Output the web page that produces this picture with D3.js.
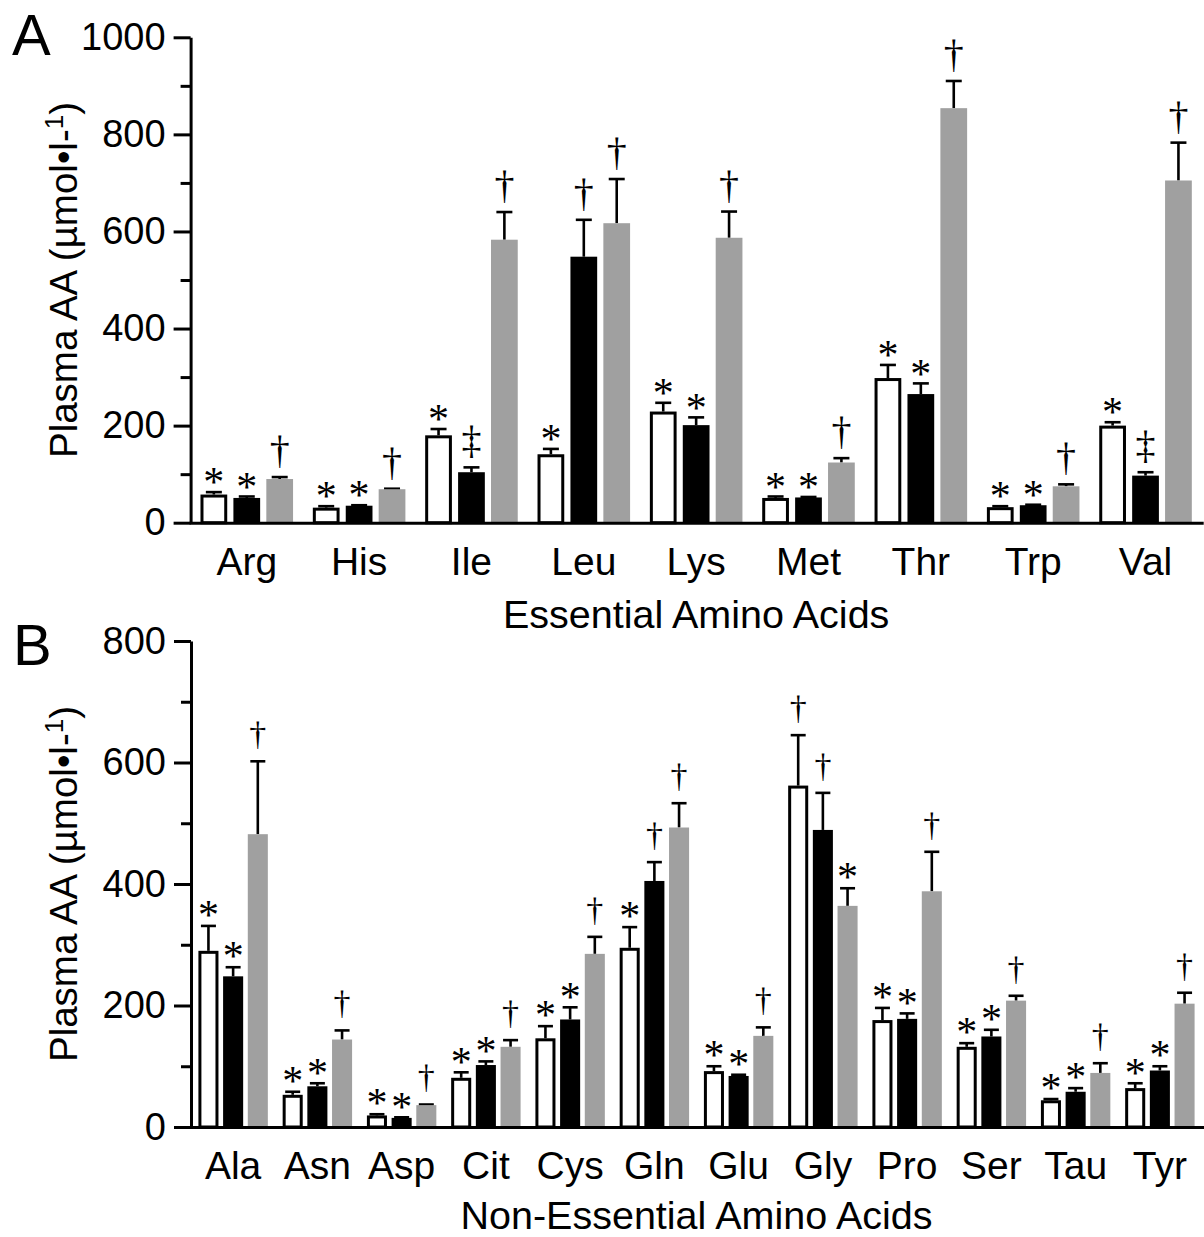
<!DOCTYPE html>
<html><head><meta charset="utf-8">
<script src="https://cdn.jsdelivr.net/npm/d3@7"></script>
<style>body{margin:0;background:#fff}svg{display:block}</style>
</head><body>
<svg id="chart" width="1204" height="1237"></svg>
<script>
// ---------- Panel A: Essential amino acids ----------
const catsA = ["Arg","His","Ile","Leu","Lys","Met","Thr","Trp","Val"];
const whiteA = [58,31,180,141,229,51,298,32,200];
const whiteErrA = [5,3,13,11,18,3,27,2,7];
const blackA = [51,35,104,548,201,52,265,36,97];
const blackErrA = [3,1,10,76,16,1,22,1,7];
const grayA = [90,69,583,617,587,124,854,75,705];
const grayErrA = [4,1,57,91,54,9,56,4,78];
const whiteSigA = ["*","*","*","*","*","*","*","*","*"];
const blackSigA = ["*","*","‡","†","*","*","*","*","‡"];
const graySigA = ["†","†","†","†","†","†","†","†","†"];
const ticksA = [0,200,400,600,800,1000];
const minorA = [100,300,500,700,900];

// ---------- Panel B: Non-essential amino acids ----------
const catsB = ["Ala","Asn","Asp","Cit","Cys","Gln","Glu","Gly","Pro","Ser","Tau","Tyr"];
const whiteB = [290,53,19,81,146,295,92,562,176,132,44,64];
const whiteErrB = [41,5,2,9,20,34,8,83,20,6,2,8];
const blackB = [248,67,15,102,177,405,84,489,178,149,58,93];
const blackErrB = [15,5,1,6,20,31,2,61,9,11,6,7];
const grayB = [482,144,36,132,285,493,150,364,388,208,89,203];
const grayErrB = [120,15,1,11,28,40,14,29,65,8,16,18];
const whiteSigB = ["*","*","*","*","*","*","*","†","*","*","*","*"];
const blackSigB = ["*","*","*","*","*","†","*","†","*","*","*","*"];
const graySigB = ["†","†","†","†","†","†","†","*","†","†","†","†"];
const ticksB = [0,200,400,600,800];
const minorB = [100,300,500,700];

const GRAY = "#a0a0a0";
const FONT = "Liberation Sans, Arial, Helvetica, sans-serif";
const SYMFONT = "Liberation Serif, Times New Roman, serif";

const svg = d3.select("#chart");

function panel(opt){
  const g = svg.append("g");
  const x = d3.scaleBand().domain(opt.cats).range(opt.xRange).padding(0);
  const y = d3.scaleLinear().domain([0, opt.yMax]).range(opt.yRange);
  const bw = x.bandwidth();
  const barW = bw * 0.238, step = bw * 0.293;
  const series = [
    {vals: opt.white, errs: opt.whiteErr, sig: opt.whiteSig, off: -1, kind: "white"},
    {vals: opt.black, errs: opt.blackErr, sig: opt.blackSig, off: 0, kind: "black"},
    {vals: opt.gray, errs: opt.grayErr, sig: opt.graySig, off: 1, kind: "gray"}
  ];
  const cx = (c, off) => x(c) + bw/2 + off*step;

  series.forEach(s => {
    const data = opt.cats.map((c,i) => ({c, v: s.vals[i], e: s.errs[i], sig: s.sig[i]}));
    const eg = g.append("g");
    eg.selectAll("line.v").data(data).join("line")
      .attr("x1", d => cx(d.c, s.off)).attr("x2", d => cx(d.c, s.off))
      .attr("y1", d => y(d.v)).attr("y2", d => y(d.v + d.e))
      .attr("stroke", "#000").attr("stroke-width", 2.6);
    eg.selectAll("line.cap").data(data).join("line")
      .attr("x1", d => cx(d.c, s.off) - opt.cap/2).attr("x2", d => cx(d.c, s.off) + opt.cap/2)
      .attr("y1", d => y(d.v + d.e)).attr("y2", d => y(d.v + d.e))
      .attr("stroke", "#000").attr("stroke-width", 2.6);
    const bg = g.append("g");
    if (s.kind === "white") {
      bg.selectAll("rect").data(data).join("rect")
        .attr("x", d => cx(d.c, s.off) - barW/2 + 1.5)
        .attr("width", barW - 3)
        .attr("y", d => y(d.v) + 1.5)
        .attr("height", d => y(0) - y(d.v) - 1.5)
        .attr("fill", "#fff").attr("stroke", "#000").attr("stroke-width", 3);
    } else {
      bg.selectAll("rect").data(data).join("rect")
        .attr("x", d => cx(d.c, s.off) - barW/2)
        .attr("width", barW)
        .attr("y", d => y(d.v))
        .attr("height", d => y(0) - y(d.v))
        .attr("fill", s.kind === "black" ? "#000" : GRAY);
    }
    const sg = g.append("g");
    sg.selectAll("text").data(data).join("text")
      .attr("x", d => cx(d.c, s.off))
      .attr("text-anchor", "middle")
      .attr("font-family", SYMFONT)
      .attr("font-size", d => d.sig === "*" ? opt.astSize : opt.dagSize)
      .attr("y", d => {
        const gap = d.sig === "*" ? opt.astGap : opt.dagGap;
        const target = y(d.v + d.e) - gap;
        const inkBottom = d.sig === "*" ? -0.22 * opt.astSize : 0.15 * opt.dagSize;
        return target - inkBottom;
      })
      .text(d => d.sig);
  });

  g.append("g").attr("transform", `translate(${opt.xRange[0]},0)`)
    .call(d3.axisLeft(y).tickValues(opt.minor).tickSize(10).tickSizeOuter(0).tickFormat(""))
    .call(a => a.select(".domain").remove())
    .selectAll("line").attr("stroke-width", 3);
  const ya = g.append("g").attr("transform", `translate(${opt.xRange[0]},0)`)
    .call(d3.axisLeft(y).tickValues(opt.ticks).tickSize(17).tickSizeOuter(0).tickPadding(8).tickFormat(d3.format("d")));
  ya.selectAll("line").attr("stroke-width", 3);
  ya.select(".domain").attr("stroke-width", 3);
  ya.selectAll("text").attr("font-size", 38).attr("font-family", FONT).attr("fill", "#000");
  const xa = g.append("g").attr("transform", `translate(0,${opt.yRange[0]})`)
    .call(d3.axisBottom(x).tickSize(0).tickSizeOuter(0));
  xa.select(".domain").attr("stroke-width", 3).attr("stroke-linecap", "square");
  xa.selectAll("text").attr("font-size", 39).attr("font-family", FONT).attr("fill", "#000")
    .attr("y", 52).attr("dy", 0);
  g.append("text")
    .attr("x", (opt.xRange[0] + opt.xRange[1]) / 2)
    .attr("y", opt.yRange[0] + opt.titleOff)
    .attr("text-anchor", "middle").attr("font-family", FONT).attr("font-size", 39.5)
    .text(opt.xTitle);
  const yt = g.append("text")
    .attr("transform", `translate(77,${(opt.yRange[0] + opt.yRange[1]) / 2}) rotate(-90)`)
    .attr("text-anchor", "middle").attr("font-family", FONT).attr("font-size", 38.5);
  yt.append("tspan").text("Plasma AA (µmol•l-");
  yt.append("tspan").attr("font-size", 26).attr("dy", -14).text("1");
  yt.append("tspan").attr("dy", 14).text(")");
  g.append("text").attr("x", opt.letterX).attr("y", opt.letterY)
    .attr("font-family", FONT).attr("font-size", 58).text(opt.letter);
}

panel({
  cats: catsA, white: whiteA, whiteErr: whiteErrA, black: blackA, blackErr: blackErrA,
  gray: grayA, grayErr: grayErrA, whiteSig: whiteSigA, blackSig: blackSigA, graySig: graySigA,
  ticks: ticksA, minor: minorA, yMax: 1000, yRange: [522.7, 37.3], xRange: [190.6, 1201.7],
  cap: 16, astSize: 42, dagSize: 40, astGap: 5, dagGap: 8, titleOff: 105,
  xTitle: "Essential Amino Acids", letter: "A", letterX: 12, letterY: 55
});
panel({
  cats: catsB, white: whiteB, whiteErr: whiteErrB, black: blackB, blackErr: blackErrB,
  gray: grayB, grayErr: grayErrB, whiteSig: whiteSigB, blackSig: blackSigB, graySig: graySigB,
  ticks: ticksB, minor: minorB, yMax: 800, yRange: [1127, 641], xRange: [191, 1202],
  cap: 15, astSize: 42, dagSize: 34, astGap: 6, dagGap: 11, titleOff: 102,
  xTitle: "Non-Essential Amino Acids", letter: "B", letterX: 13, letterY: 665
});
</script>
</body></html>
